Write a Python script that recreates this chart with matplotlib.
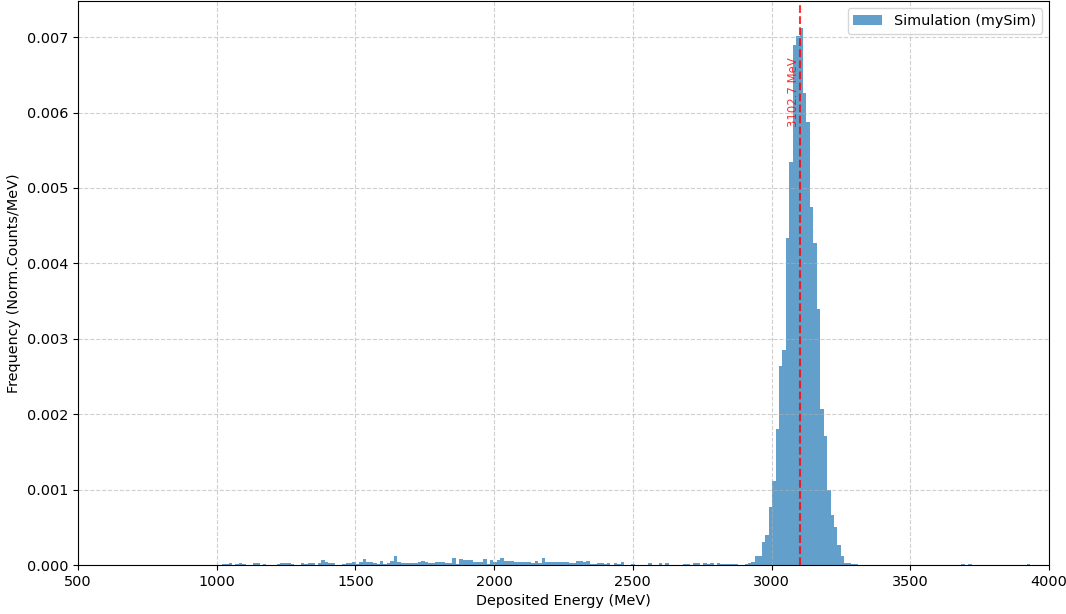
import numpy as np
import matplotlib
matplotlib.use("Agg")
import matplotlib.pyplot as plt

plt.rcParams["font.size"] = 10.4

# Histogram binning (MeV)
bin_start = 1018.0
bin_width = 12.4
n_bins = 235

# Normalised density per bin, in units of 1e-5 counts/MeV
density_e5 = [
    1.3, 1.3, 2.2, 0, 1.3, 2.2, 1.3, 0, 0, 2.7,
    2.7, 0, 1.3, 0, 0, 0, 1.8, 2.2, 2.2, 2.2,
    1.3, 0, 0, 2.2, 1.3, 2.2, 2.2, 0, 2.7, 6.2,
    4.4, 2.7, 2.7, 0, 0, 1.3, 2.2, 2.7, 3.5, 1.3,
    3.5, 8.0, 4.4, 3.5, 2.2, 1.3, 5.3, 1.3, 2.2, 5.3,
    12.4, 4.4, 3.1, 3.1, 2.2, 2.2, 3.1, 4.4, 5.3, 3.5,
    2.2, 2.2, 4.4, 4.4, 3.5, 2.2, 2.2, 9.7, 1.8, 7.5,
    6.6, 6.6, 6.6, 3.5, 3.5, 3.5, 8.0, 0.9, 6.2, 3.5,
    6.2, 9.7, 5.3, 5.3, 5.3, 3.5, 3.5, 3.5, 3.5, 3.5,
    2.2, 5.7, 2.2, 8.8, 4.4, 4.4, 4.4, 4.4, 3.5, 3.5,
    3.5, 2.2, 2.2, 5.7, 5.7, 4.4, 5.3, 1.8, 1.8, 2.7,
    2.7, 0.9, 2.2, 0.4, 3.1, 0.9, 4.0, 0, 0, 0.9,
    0, 0, 0, 0, 2.7, 0.4, 0.4, 2.2, 0, 2.2,
    0.4, 0.4, 0.4, 0, 1.8, 1.8, 0, 2.2, 2.2, 0,
    2.2, 0.9, 2.2, 0, 2.2, 0.9, 0.9, 0.9, 0.9, 0.9,
    0, 0, 1.3, 2.2, 4.4, 12, 12, 30, 40, 77,
    112, 180, 264, 285, 434, 535, 690, 702, 712, 626,
    588, 475, 427, 340, 207, 171, 99, 66, 51, 27,
    12.4, 2, 2, 0.9, 0.9, 0, 0, 0, 0, 0,
    0, 0, 0, 0, 0, 0, 0, 0, 0, 0,
    0, 0, 0, 0, 0, 0, 0, 0, 0, 0,
    0, 0, 0, 0, 0, 1.3, 0, 1.3, 0, 0,
    0, 0, 0, 0, 0, 0, 0, 0, 0, 0,
    0, 0, 0, 0, 1.3,
]

peak_energy = 3102.7
series_label = "Simulation (mySim)"
x_label = "Deposited Energy (MeV)"
y_label = "Frequency (Norm.Counts/MeV)"
x_range = (500, 4000)

edges = bin_start + bin_width * np.arange(n_bins + 1)
centers = 0.5 * (edges[:-1] + edges[1:])
heights = np.array(density_e5[:n_bins]) * 1e-5

fig, ax = plt.subplots(figsize=(10.66, 6.14), dpi=100)
ax.hist(centers, bins=edges, weights=heights, color="C0", alpha=0.7,
        label=series_label)
ax.axvline(peak_energy, color="red", linestyle="--", linewidth=1.5, alpha=0.8)
ax.text(peak_energy, heights.max() * 0.945, f"{peak_energy:.1f} MeV",
        rotation=90, color="red", alpha=0.8, fontsize=8.4,
        ha="right", va="top")
ax.set_xlim(*x_range)
ax.set_xlabel(x_label)
ax.set_ylabel(y_label)
ax.grid(True, linestyle="--", alpha=0.6)
ax.legend(loc="upper right")
fig.subplots_adjust(left=0.0732, right=0.984, top=0.998, bottom=0.0798)
fig.savefig("out.png", dpi=100)
